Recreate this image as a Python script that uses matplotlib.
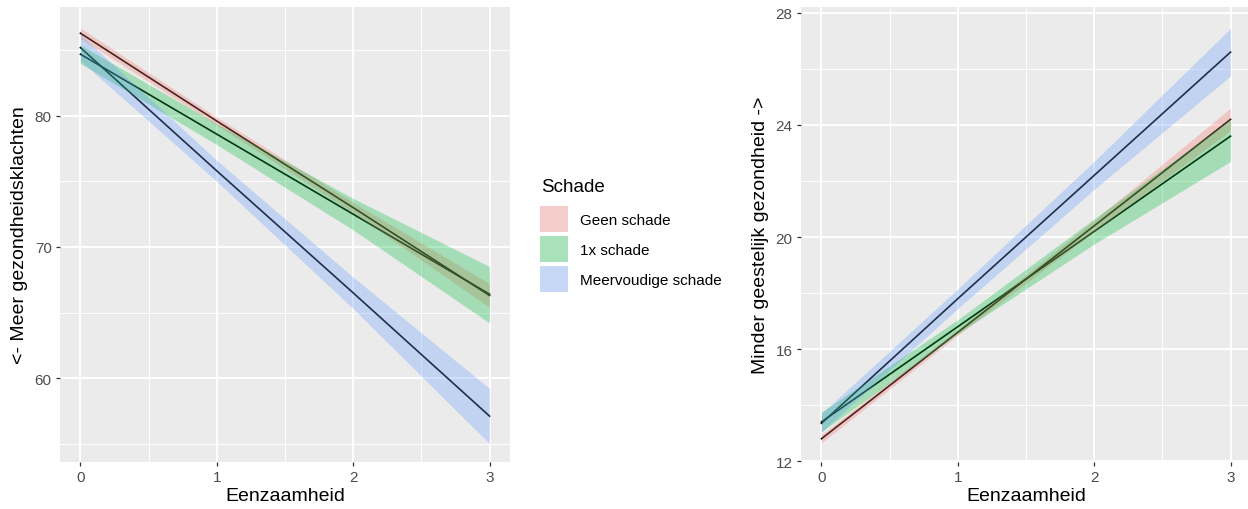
import numpy as np
import matplotlib
matplotlib.use("Agg")
import matplotlib.pyplot as plt
from matplotlib.patches import Patch
from matplotlib.ticker import MultipleLocator

plt.rcParams['font.family'] = ['Liberation Sans', 'DejaVu Sans']

# ---- data ----
groups = ["Geen schade", "1x schade", "Meervoudige schade"]
colors = ["#F8766D", "#00BA38", "#619CFF"]
x_pts = [0, 1, 2, 3]

# left panel: <- Meer gezondheidsklachten
geen_fit_L = [86.3, 79.6, 73.0, 66.3]
geen_lo_L = [85.9, 79.3, 72.6, 65.4]
geen_hi_L = [86.7, 79.9, 73.4, 67.2]
een_fit_L = [84.7, 78.6, 72.5, 66.4]
een_lo_L = [84.0, 77.8, 71.3, 64.2]
een_hi_L = [85.4, 79.4, 73.7, 68.5]
meer_fit_L = [85.2, 75.8, 66.5, 57.1]
meer_lo_L = [84.2, 75.0, 65.3, 55.0]
meer_hi_L = [86.2, 76.6, 67.7, 59.2]

# right panel: Minder geestelijk gezondheid ->
geen_fit_R = [12.8, 16.6, 20.4, 24.2]
geen_lo_R = [12.65, 16.5, 20.2, 23.8]
geen_hi_R = [12.95, 16.7, 20.6, 24.6]
een_fit_R = [13.4, 16.8, 20.2, 23.6]
een_lo_R = [13.05, 16.55, 19.75, 22.7]
een_hi_R = [13.75, 17.05, 20.65, 24.2]
meer_fit_R = [13.35, 17.8, 22.2, 26.6]
meer_lo_R = [13.05, 17.45, 21.7, 25.75]
meer_hi_R = [13.7, 18.15, 22.7, 27.45]

left_yticks = [60, 70, 80]
right_yticks = [12, 16, 20, 24, 28]
xticks = [0, 1, 2, 3]

W, H = 1248, 510
fig = plt.figure(figsize=(W / 100, H / 100), dpi=100)
fig.patch.set_facecolor("white")

ax1 = fig.add_axes([60 / W, 47 / H, 450 / W, 455 / H])
ax2 = fig.add_axes([801 / W, 47 / H, 450 / W, 455 / H])

def style(ax, ylim, yticks, yminor, ylabel, labelpad):
    ax.set_facecolor("#EBEBEB")
    for s in ax.spines.values():
        s.set_visible(False)
    ax.set_xlim(-0.15, 3.15)
    ax.set_ylim(*ylim)
    ax.set_xticks(xticks)
    ax.set_yticks(yticks)
    ax.xaxis.set_minor_locator(MultipleLocator(0.5))
    ax.yaxis.set_minor_locator(MultipleLocator(yminor))
    ax.grid(which="major", color="white", linewidth=1.4, zorder=0)
    ax.grid(which="minor", color="white", linewidth=0.7, zorder=0)
    ax.set_axisbelow(True)
    ax.tick_params(which="major", length=3, width=0.9, color="#333333",
                   labelcolor="#4D4D4D", labelsize=11, pad=3)
    ax.tick_params(which="minor", length=0)
    ax.set_xlabel("Eenzaamheid", fontsize=14, labelpad=2)
    ax.set_ylabel(ylabel, fontsize=14, labelpad=labelpad)

def draw(ax, fits, los, his):
    for f in fits:
        ax.plot(x_pts, f, color="black", linewidth=1.2, zorder=2)
    for lo, hi, c in zip(los, his, colors):
        ax.fill_between(x_pts, lo, hi, color=c, alpha=0.3, linewidth=0, zorder=3)

draw(ax1, [geen_fit_L, een_fit_L, meer_fit_L],
     [geen_lo_L, een_lo_L, meer_lo_L], [geen_hi_L, een_hi_L, meer_hi_L])
draw(ax2, [geen_fit_R, een_fit_R, meer_fit_R],
     [geen_lo_R, een_lo_R, meer_lo_R], [geen_hi_R, een_hi_R, meer_hi_R])

style(ax1, (53.6, 88.3), left_yticks, 5, "<- Meer gezondheidsklachten", 5)
style(ax2, (11.97, 28.21), right_yticks, 2, "Minder geestelijk gezondheid ->", 5)

# legend
def blend(hexc, a=0.3, bg=(242, 242, 242)):
    c = np.array([int(hexc[i:i + 2], 16) for i in (1, 3, 5)])
    return tuple((a * c + (1 - a) * np.array(bg)) / 255)

handles = [Patch(facecolor=blend(c), edgecolor="none") for c in colors]
fs = 11
px = fs * 100 / 72
key_h_pt = 26 * 72 / 100
hh = (key_h_pt - 0.245 * fs) / (0.65 * fs)
fig.text(541 / W, 1 - 179 / H, "Schade", fontsize=13.5, ha="left", va="top")
fig.legend(handles, groups, loc="upper left",
           bbox_to_anchor=(540 / W, 1 - 207 / H), frameon=False,
           fontsize=fs, borderpad=0, borderaxespad=0,
           handlelength=28 / px, handleheight=hh,
           labelspacing=4 / px, handletextpad=12 / px)

fig.savefig("out.png", dpi=100)
